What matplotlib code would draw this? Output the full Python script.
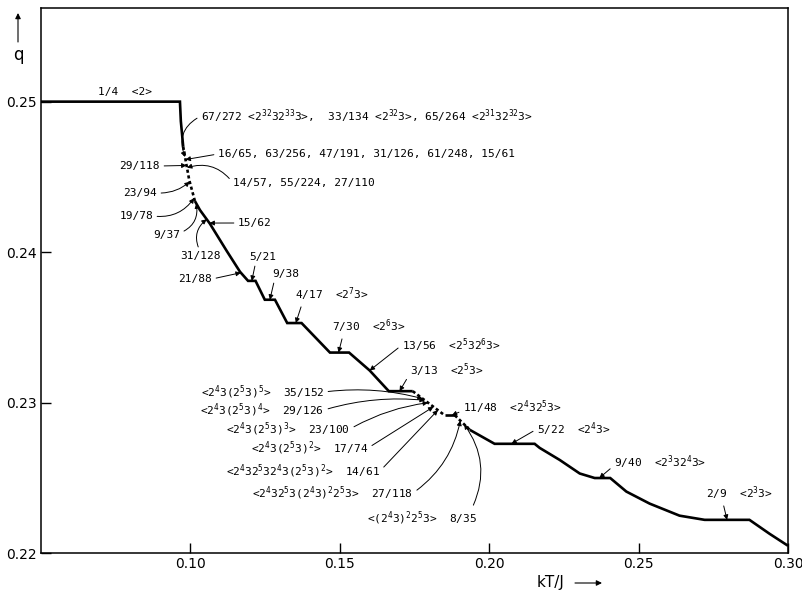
import matplotlib
matplotlib.use('Agg')
import matplotlib.pyplot as plt
import numpy as np

# Кривая q(kT/J) - "чертова лестница"
kT = [0.0500, 0.0965, 0.0968, 0.0976, 0.0985, 0.0996, 0.1015, 0.1032, 0.1065,
      0.1121, 0.1166, 0.1193, 0.1218, 0.1249, 0.1283, 0.1324, 0.1372, 0.1467,
      0.1531, 0.1600, 0.1664, 0.1744, 0.1851, 0.1885, 0.1935, 0.2018, 0.2152,
      0.2169, 0.2236, 0.2303, 0.2353, 0.2405, 0.2459, 0.2537, 0.2637, 0.2721,
      0.2871, 0.2938, 0.3000]
q = [0.25, 0.25, 0.2487, 0.2470, 0.2460, 0.2448, 0.2434, 0.2428, 0.2419,
     0.2401, 0.2387, 5/21, 5/21, 9/38, 9/38, 4/17, 4/17, 7/30,
     7/30, 13/56, 3/13, 3/13, 11/48, 11/48, 0.2282, 5/22, 5/22,
     0.2270, 0.2262, 0.2253, 9/40, 9/40, 0.2241, 0.2233, 0.2225, 2/9,
     2/9, 0.2213, 0.2205]

# участки, нарисованные пунктиром
dotted_spans = [(0.0976, 0.1015), (0.1744, 0.1851), (0.1885, 0.1935)]

x_ticks = [0.10, 0.15, 0.20, 0.25, 0.30]
x_ticklabels = ['0.10', '0.15', '0.20', '0.25', '0.30']
y_ticks = [0.22, 0.23, 0.24, 0.25]
y_ticklabels = ['0.22', '0.23', '0.24', '0.25']

# подписи: текст и значение q, на которое указывает стрелка
labels = [
    '67/272 <2$^{32}$32$^{33}$3>,  33/134 <2$^{32}$3>, 65/264 <2$^{31}$32$^{32}$3>',
    '16/65, 63/256, 47/191, 31/126, 61/248, 15/61',
    '14/57, 55/224, 27/110',
    '15/62',
    '5/21',
    '9/38',
    '4/17  <2$^{7}$3>',
    '7/30  <2$^{6}$3>',
    '13/56  <2$^{5}$32$^{6}$3>',
    '3/13  <2$^{5}$3>',
    '11/48  <2$^{4}$32$^{5}$3>',
    '5/22  <2$^{4}$3>',
    '9/40  <2$^{3}$32$^{4}$3>',
    '2/9  <2$^{3}$3>',
    '29/118',
    '23/94',
    '19/78',
    '9/37',
    '21/88',
    '31/128',
    '<2$^{4}$3(2$^{5}$3)$^{5}$>  35/152',
    '<2$^{4}$3(2$^{5}$3)$^{4}$>  29/126',
    '<2$^{4}$3(2$^{5}$3)$^{3}$>  23/100',
    '<2$^{4}$3(2$^{5}$3)$^{2}$>  17/74',
    '<2$^{4}$32$^{5}$32$^{4}$3(2$^{5}$3)$^{2}$>  14/61',
    '<2$^{4}$32$^{5}$3(2$^{4}$3)$^{2}$2$^{5}$3>  27/118',
    '<(2$^{4}$3)$^{2}$2$^{5}$3>  8/35',
]
label_q = [67/272, 16/65, 14/57, 15/62, 5/21, 9/38, 4/17, 7/30, 13/56, 3/13,
           11/48, 5/22, 9/40, 2/9, 29/118, 23/94, 19/78, 9/37, 21/88, 31/128,
           35/152, 29/126, 23/100, 17/74, 14/61, 27/118, 8/35]

# раскладка подписей: (x, y) в пикселях от левого верхнего угла, выравнивание,
# доля вдоль ступеньки, изгиб стрелки, точка выхода стрелки из рамки текста
layout = [
    ((201, 116), 'left', 0.5, 0.45, (0, 0.5)),
    ((218, 154), 'left', 0.5, 0.0, (0, 0.5)),
    ((233, 183), 'left', 0.5, 0.35, (0, 0.5)),
    ((238, 223), 'left', 0.5, 0.0, (0, 0.5)),
    ((249, 257), 'left', 0.5, 0.0, (0.25, 0)),
    ((272, 274), 'left', 0.5, 0.0, (0.1, 0)),
    ((295, 294), 'left', 0.6, 0.0, (0.1, 0)),
    ((332, 326), 'left', 0.45, 0.0, (0.15, 0)),
    ((402, 345), 'left', 0.5, 0.0, (0, 0.5)),
    ((410, 370), 'left', 0.45, 0.0, (0, 0.3)),
    ((463, 407), 'left', 0.7, 0.0, (0, 0.3)),
    ((537, 429), 'left', 0.42, 0.0, (0, 0.5)),
    ((614, 462), 'left', 0.3, 0.0, (0, 0.3)),
    ((706, 493), 'left', 0.5, 0.0, (0.25, 0)),
    ((160, 166), 'right', 0.5, 0.0, (1, 0.5)),
    ((157, 193), 'right', 0.5, 0.2, (1, 0.5)),
    ((153, 216), 'right', 0.5, 0.3, (1, 0.5)),
    ((180, 235), 'right', 0.5, 0.4, (1, 0.7)),
    ((212, 279), 'right', 0.5, 0.0, (1, 0.5)),
    ((200, 256), 'center', 0.5, -0.4, (0.5, 1)),
    ((324, 392), 'right', 0.5, -0.1, (1, 0.5)),
    ((324, 410), 'right', 0.5, -0.1, (1, 0.5)),
    ((350, 429), 'right', 0.5, -0.1, (1, 0.5)),
    ((368, 448), 'right', 0.5, 0.0, (1, 0.5)),
    ((380, 471), 'right', 0.5, 0.0, (1, 0.5)),
    ((413, 493), 'right', 0.5, 0.2, (1, 0.5)),
    ((477, 518), 'right', 0.5, 0.3, (0.95, 1)),
]

W, H = 802, 590

plt.rcParams['font.family'] = ['DejaVu Sans']
plt.rcParams['mathtext.fontset'] = 'custom'
plt.rcParams['mathtext.rm'] = 'DejaVu Sans Mono'
plt.rcParams['mathtext.it'] = 'DejaVu Sans Mono'
plt.rcParams['mathtext.bf'] = 'DejaVu Sans Mono'

kT = np.array(kT)
q = np.array(q)


def tip(qv, frac):
    idx = np.where(np.isclose(q, qv, atol=1e-6))[0]
    if len(idx) >= 2:
        return kT[idx[0]] + frac * (kT[idx[-1]] - kT[idx[0]]), qv
    return np.interp(qv, q[::-1], kT[::-1]), qv


fig = plt.figure(figsize=(W / 100, H / 100), dpi=100)
ax = fig.add_axes([41 / W, 1 - 553.3 / H, (788 - 41) / W, (553.3 - 8.3) / H])
ax.set_xlim(0.05, 0.30)
ax.set_ylim(0.22, 0.2562)

# кривая: сплошные куски и пунктирные
bounds = [kT[0]]
for a, b in dotted_spans:
    bounds += [a, b]
bounds.append(kT[-1])
for i in range(len(bounds) - 1):
    lo, hi = bounds[i], bounds[i + 1]
    m = (kT >= lo - 1e-9) & (kT <= hi + 1e-9)
    ls = (0, (1.2, 1.0)) if i % 2 == 1 else '-'
    ax.plot(kT[m], q[m], color='black', lw=1.9, ls=ls,
            solid_joinstyle='miter', solid_capstyle='butt')

ax.set_xticks(x_ticks)
ax.set_xticklabels(x_ticklabels)
ax.set_yticks(y_ticks)
ax.set_yticklabels(y_ticklabels)
ax.tick_params(direction='in', length=7, width=1.0, labelsize=10, pad=3)
for s in ax.spines.values():
    s.set_linewidth(1.1)

ax.text(98 / W, 1 - 92 / H, '1/4  <2>', transform=fig.transFigure,
        family='DejaVu Sans Mono', fontsize=8, ha='left', va='center')

for text, qv, (pos, ha, frac, rad, rel) in zip(labels, label_q, layout):
    ax.annotate(text, xy=tip(qv, frac), xycoords='data',
                xytext=(pos[0], H - pos[1]), textcoords='figure pixels',
                ha=ha, va='center', fontsize=8, family='DejaVu Sans Mono',
                arrowprops=dict(arrowstyle='-|>', color='black', lw=0.7,
                                mutation_scale=7, shrinkA=1, shrinkB=0,
                                relpos=rel,
                                connectionstyle=f'arc3,rad={rad}'))

# подписи осей со стрелками
ax.annotate('', xy=(18, H - 13), xytext=(18, H - 42), xycoords='figure pixels',
            arrowprops=dict(arrowstyle='-|>', color='black', lw=0.8,
                            mutation_scale=8, shrinkA=0, shrinkB=0))
fig.text(18 / W, 1 - 55 / H, 'q', fontsize=12, ha='center', va='center')
fig.text(551 / W, 1 - 582 / H, 'kT/J', fontsize=11, ha='center', va='center')
ax.annotate('', xy=(602, H - 583), xytext=(575, H - 583), xycoords='figure pixels',
            arrowprops=dict(arrowstyle='-|>', color='black', lw=0.8,
                            mutation_scale=8, shrinkA=0, shrinkB=0))

fig.savefig('out.png', dpi=100)
